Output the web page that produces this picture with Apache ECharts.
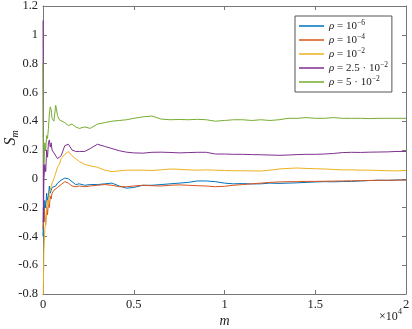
<!DOCTYPE html>
<html>
<head>
<meta charset="utf-8">
<script src="https://cdn.jsdelivr.net/npm/echarts@6/dist/echarts.min.js"></script>
<style>
  html, body { margin: 0; padding: 0; background: #fff; }
  #main { width: 412px; height: 329px; }
</style>
</head>
<body>
<div id="main"></div>
<script>
// sample positions m (shared by all series)
var mVals = [1, 20, 50, 100, 150, 200, 250, 300, 350, 400, 450, 500, 600, 700, 800, 900, 1000, 1200, 1400, 1600,
  1800, 2000, 2300, 2600, 3000, 3400, 3800, 4200, 4600, 5000, 5500, 6000, 6500, 7000, 7500, 8000, 8500, 9000, 9500, 10000,
  10500, 11000, 11500, 12000, 12500, 13000, 13500, 14000, 14500, 15000, 15500, 16000, 16500, 17000, 17500, 18000, 18500, 19000, 19500, 20000];

// rho = 1e-6
var sRho6 = [-0.4, -0.2, -0.3, -0.15, -0.2, -0.1, -0.15, -0.12, -0.05, -0.1, -0.08, -0.06, -0.07, -0.05, -0.03, -0.02, -0.01, 0.005, 0.0, -0.02,
  -0.04, -0.035, -0.045, -0.04, -0.04, -0.035, -0.03, -0.05, -0.065, -0.06, -0.045, -0.045, -0.04, -0.035, -0.03, -0.025, -0.015, -0.015, -0.02, -0.03,
  -0.035, -0.033, -0.036, -0.035, -0.03, -0.032, -0.03, -0.028, -0.025, -0.022, -0.02, -0.021, -0.019, -0.018, -0.015, -0.012, -0.01, -0.011, -0.008, -0.008];
// rho = 1e-4
var sRho4 = [-0.35, -0.3, -0.2, -0.28, -0.32, -0.2, -0.25, -0.15, -0.2, -0.12, -0.14, -0.1, -0.08, -0.09, -0.06, -0.05, -0.04, -0.02, -0.03, -0.05,
  -0.055, -0.05, -0.055, -0.05, -0.045, -0.04, -0.045, -0.055, -0.055, -0.05, -0.045, -0.048, -0.05, -0.045, -0.042, -0.045, -0.048, -0.05, -0.055, -0.052,
  -0.045, -0.04, -0.035, -0.03, -0.025, -0.022, -0.02, -0.02, -0.018, -0.018, -0.017, -0.016, -0.015, -0.014, -0.013, -0.012, -0.01, -0.01, -0.009, -0.008];
// rho = 1e-2
var sRho2 = [-1.0, -0.75, -0.5, -0.35, -0.3, -0.2, -0.15, -0.18, -0.1, -0.08, -0.05, -0.03, 0.0, 0.04, 0.08, 0.1, 0.14, 0.17, 0.19, 0.16,
  0.14, 0.12, 0.1, 0.09, 0.08, 0.06, 0.05, 0.055, 0.06, 0.06, 0.06, 0.058, 0.062, 0.068, 0.066, 0.062, 0.06, 0.062, 0.06, 0.058,
  0.056, 0.056, 0.055, 0.054, 0.06, 0.068, 0.072, 0.075, 0.072, 0.07, 0.068, 0.065, 0.062, 0.062, 0.06, 0.06, 0.058, 0.056, 0.055, 0.058];
// rho = 2.5e-2
var sRho25 = [1.1, -0.3, 0.0, 0.1, 0.05, 0.2, 0.15, 0.25, 0.27, 0.22, 0.25, 0.2, 0.18, 0.17, 0.14, 0.13, 0.16, 0.23, 0.24, 0.2,
  0.19, 0.19, 0.19, 0.21, 0.24, 0.225, 0.21, 0.195, 0.185, 0.18, 0.178, 0.184, 0.185, 0.183, 0.18, 0.182, 0.184, 0.184, 0.172, 0.172,
  0.17, 0.17, 0.168, 0.167, 0.165, 0.163, 0.165, 0.168, 0.17, 0.17, 0.172, 0.176, 0.182, 0.184, 0.183, 0.185, 0.186, 0.187, 0.19, 0.19];
// rho = 5e-2
var sRho5 = [0.8, 0.3, 0.1, 0.25, 0.2, 0.3, 0.28, 0.35, 0.45, 0.5, 0.48, 0.42, 0.4, 0.51, 0.44, 0.41, 0.42, 0.39, 0.37, 0.38,
  0.36, 0.35, 0.36, 0.35, 0.38, 0.39, 0.4, 0.405, 0.41, 0.42, 0.43, 0.436, 0.415, 0.41, 0.412, 0.41, 0.413, 0.41, 0.4, 0.405,
  0.41, 0.41, 0.405, 0.41, 0.405, 0.41, 0.42, 0.42, 0.425, 0.42, 0.42, 0.425, 0.42, 0.42, 0.42, 0.418, 0.42, 0.42, 0.42, 0.42];

var seriesNames = ['{i|ρ} = 10{sup|−6}', '{i|ρ} = 10{sup|−4}', '{i|ρ} = 10{sup|−2}', '{i|ρ} = 2.5 · 10{sup|−2}', '{i|ρ} = 5 · 10{sup|−2}'];
var seriesVals = [sRho6, sRho4, sRho2, sRho25, sRho5];
var colors = ['#0072BD', '#D95319', '#EDB120', '#7E2F8E', '#77AC30'];

var font = '"Liberation Serif", "DejaVu Serif", serif';
var axisCol = '#777';
var txtCol = '#222';

function pairs(arr) {
  return mVals.map(function (m, i) { return [m, arr[i]]; });
}

var series = seriesVals.map(function (arr, k) {
  return {
    name: seriesNames[k],
    type: 'line',
    data: pairs(arr),
    symbol: 'none',
    lineStyle: { width: 1, color: colors[k] },
    itemStyle: { color: colors[k] },
    animation: false
  };
});

var chart = echarts.init(document.getElementById('main'));
chart.setOption({
  animation: false,
  color: colors,
  textStyle: { fontFamily: font },
  grid: { left: 43, right: 6, top: 6, bottom: 35, containLabel: false, outerBoundsMode: 'none' },
  legend: {
    orient: 'vertical',
    left: 295,
    top: 16,
    padding: [3, 4, 3, 4],
    itemGap: 0,
    itemWidth: 25,
    itemHeight: 1.5,
    icon: 'rect',
    backgroundColor: '#fff',
    borderColor: '#555',
    borderWidth: 1,
    borderRadius: 0,
    textStyle: {
      fontFamily: font, fontSize: 11, color: txtCol, lineHeight: 14,
      rich: {
        i: { fontStyle: 'italic', fontFamily: font, fontSize: 11, lineHeight: 14 },
        sup: { fontFamily: font, fontSize: 7.5, verticalAlign: 'top', lineHeight: 14 }
      }
    },
    data: seriesNames
  },
  xAxis: [{
    type: 'value', min: 0, max: 20000, interval: 5000,
    axisLine: { show: true, onZero: false, lineStyle: { color: axisCol } },
    axisTick: { show: true, inside: true, length: 4, lineStyle: { color: axisCol } },
    splitLine: { show: false },
    axisLabel: { color: txtCol, fontSize: 12.5, fontFamily: font, margin: 4, formatter: function (v) { return String(+(v / 10000).toFixed(1)); } },
    name: 'm', nameLocation: 'middle', nameGap: 20, nameMoveOverlap: false,
    nameTextStyle: { fontStyle: 'italic', fontSize: 14, color: txtCol, fontFamily: font }
  }, {
    type: 'value', min: 0, max: 20000, interval: 5000, position: 'top',
    axisLine: { show: true, onZero: false, lineStyle: { color: axisCol } },
    axisTick: { show: true, inside: true, length: 4, lineStyle: { color: axisCol } },
    axisLabel: { show: false }, splitLine: { show: false }
  }],
  yAxis: [{
    type: 'value', min: -0.8, max: 1.2, interval: 0.2,
    axisLine: { show: true, onZero: false, lineStyle: { color: axisCol } },
    axisTick: { show: true, inside: true, length: 4, lineStyle: { color: axisCol } },
    splitLine: { show: false },
    axisLabel: { color: txtCol, fontSize: 12.5, fontFamily: font, margin: 5, hideOverlap: false, formatter: function (v) { return String(+v.toFixed(1)); } }
  }, {
    type: 'value', min: -0.8, max: 1.2, interval: 0.2, position: 'right',
    axisLine: { show: true, onZero: false, lineStyle: { color: axisCol } },
    axisTick: { show: true, inside: true, length: 4, lineStyle: { color: axisCol } },
    axisLabel: { show: false }, splitLine: { show: false }
  }],
  graphic: [{
    type: 'text', x: 11, y: 138, rotation: Math.PI / 2,
    style: {
      text: '{s|S}{m|m}', align: 'center', verticalAlign: 'middle', fill: txtCol,
      rich: {
        s: { fontStyle: 'italic', fontSize: 16, fontFamily: font, fill: txtCol, lineHeight: 18 },
        m: { fontStyle: 'italic', fontSize: 10, fontFamily: font, fill: txtCol, verticalAlign: 'bottom', lineHeight: 18 }
      }
    }
  }, {
    type: 'text', left: 379, top: 311,
    style: { text: '×10', fontFamily: font, fontSize: 12, fill: txtCol }
  }, {
    type: 'text', left: 398, top: 308,
    style: { text: '4', fontFamily: font, fontSize: 8, fill: txtCol }
  }],
  series: series
});
</script>
</body>
</html>
